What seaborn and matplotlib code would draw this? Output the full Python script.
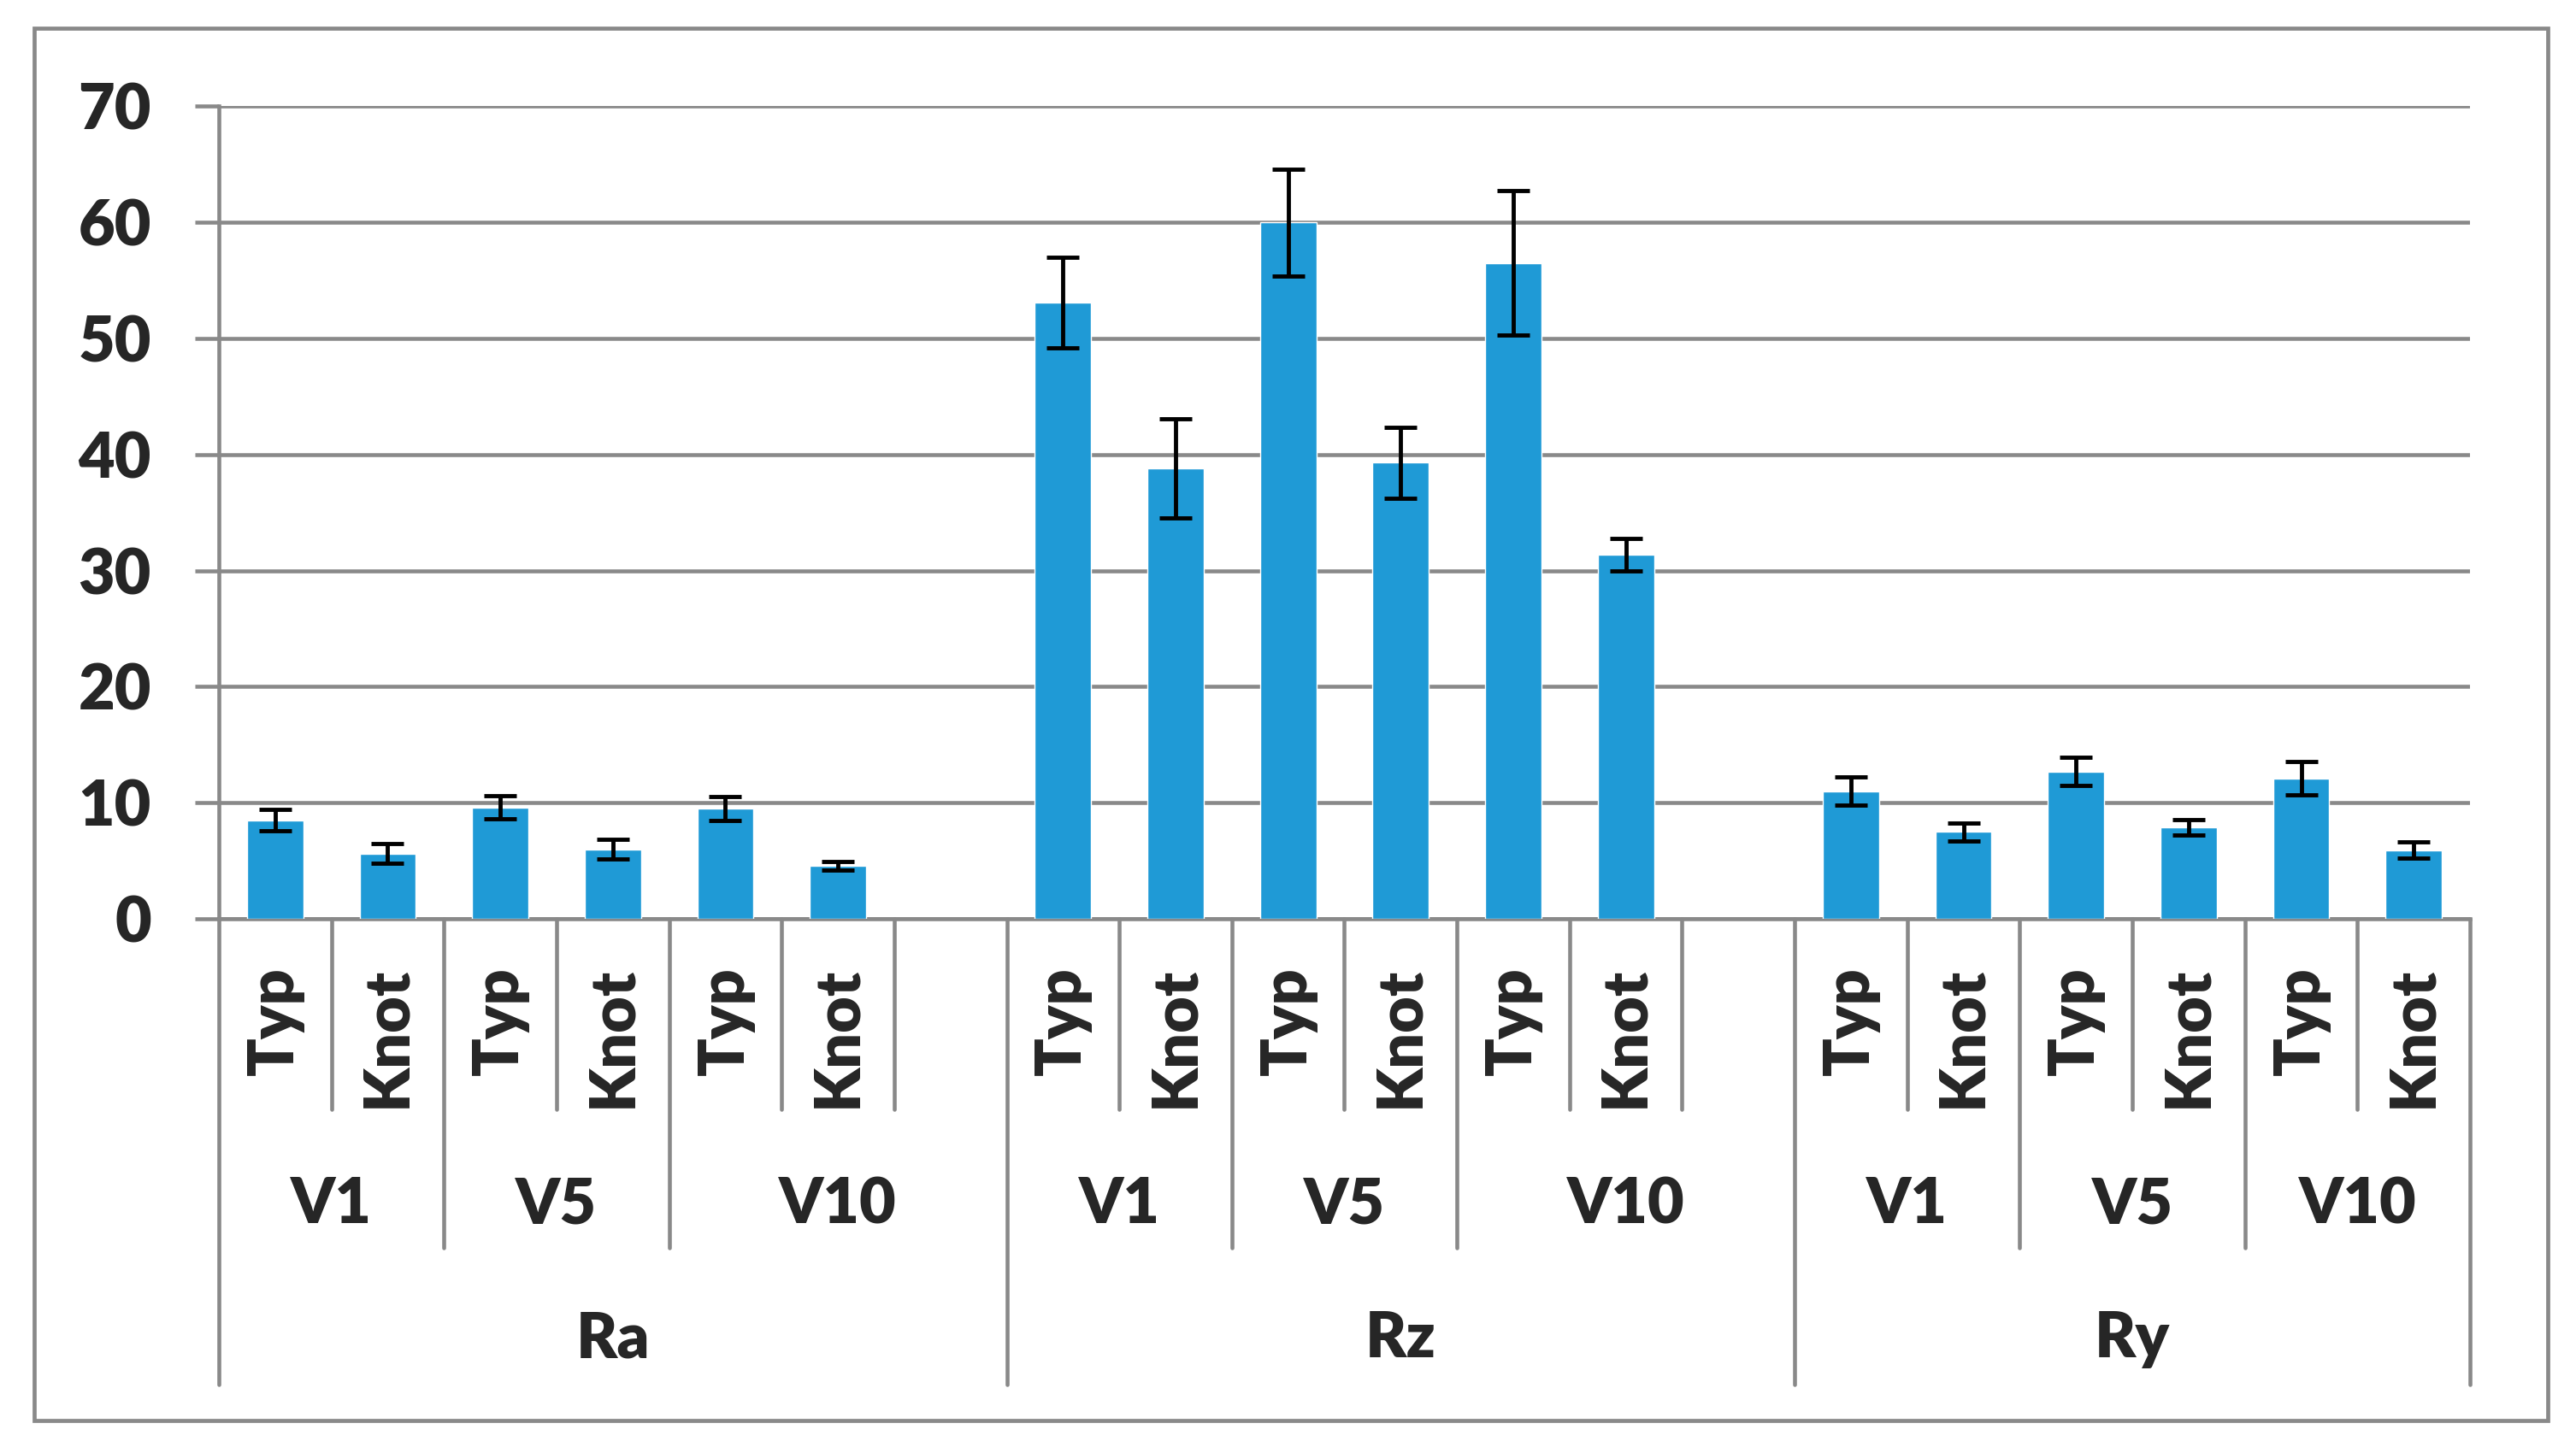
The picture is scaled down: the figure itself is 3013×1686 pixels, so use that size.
import matplotlib
matplotlib.use("Agg")
import matplotlib.pyplot as plt
import matplotlib.transforms as mtransforms
from matplotlib.patches import Rectangle
import numpy as np
import pandas as pd
import seaborn as sns

# ─── Data ────────────────────────────────────────────────────────────────
params = ["Ra", "Rz", "Ry"]
speeds = ["V1", "V5", "V10"]
kinds = ["Typ", "Knot"]

ra_mean = [8.5, 5.6, 9.6, 6.0, 9.5, 4.6]
ra_err = [0.95, 0.85, 1.0, 0.85, 1.0, 0.37]
rz_mean = [53.1, 38.8, 60.0, 39.3, 56.5, 31.4]
rz_err = [3.9, 4.25, 4.6, 3.05, 6.2, 1.4]
ry_mean = [11.0, 7.5, 12.7, 7.9, 12.1, 5.9]
ry_err = [1.23, 0.77, 1.2, 0.65, 1.45, 0.7]

yticks = [0, 10, 20, 30, 40, 50, 60, 70]

# ─── Style ───────────────────────────────────────────────────────────────
BAR = "#1F9AD6"
GRAY = "#898989"
sns.set_theme(style="white")
plt.rcParams["font.family"] = ["Lato", "DejaVu Sans"]
FS = 53
FW = "heavy"

# build the slot table: every group gets a blank slot after it except the last
means = {"Ra": ra_mean, "Rz": rz_mean, "Ry": ry_mean}
errs = {"Ra": ra_err, "Rz": rz_err, "Ry": ry_err}
rows, order = [], []
for p in params:
    i = 0
    for s in speeds:
        for k in kinds:
            slot = f"{p}|{s}|{k}"
            order.append(slot)
            rows.append({"slot": slot, "value": means[p][i], "err": errs[p][i]})
            i += 1
    if p != params[-1]:
        order.append(f"{p}|gap")
df = pd.DataFrame(rows)

fig = plt.figure(figsize=(30.13, 16.86), dpi=100)
ax = fig.add_axes([256 / 3013, 1 - 1075 / 1686, (2889 - 256) / 3013, (1075 - 124.3) / 1686])

sns.barplot(data=df, x="slot", y="value", order=order, color=BAR, saturation=1,
            width=0.5, errorbar=None, ax=ax, zorder=3)

xpos = [order.index(s) for s in df["slot"]]
ax.errorbar(xpos, df["value"], yerr=df["err"], fmt="none", ecolor="black",
            elinewidth=3.5, capsize=13.7, capthick=3.5, zorder=4)

ax.set_xlim(-0.5, len(order) - 0.5)
ax.set_ylim(0, 70)
ax.set_yticks(yticks)
ax.set_yticklabels([str(t) for t in yticks], fontsize=FS, fontweight=FW)
ax.set_xticks([])
ax.set_xlabel("")
ax.set_ylabel("")
ax.yaxis.grid(True, color=GRAY, linewidth=3.3)
ax.set_axisbelow(True)
ax.tick_params(axis="y", length=20, width=3.3, color=GRAY, direction="out", pad=37, left=True)
for side in ["top", "right"]:
    ax.spines[side].set_visible(False)
for side in ["left", "bottom"]:
    ax.spines[side].set_color(GRAY)
    ax.spines[side].set_linewidth(3.3)

# ─── Multi-level category axis ──────────────────────────────────────────
trans = mtransforms.blended_transform_factory(ax.transData, ax.transAxes)
L1, L2, L3 = -0.2346, -0.405, -0.5733


def vline(x, depth):
    ax.plot([x, x], [0, depth], color=GRAY, lw=3.3, transform=trans, clip_on=False)


for idx, slot in enumerate(order):
    parts = slot.split("|")
    if len(parts) == 3:
        ax.text(idx, -0.0589, parts[2], rotation=90, ha="center", va="top",
                fontsize=FS, fontweight=FW, transform=trans)

# boundaries
pos = 0
for gi, p in enumerate(params):
    start = pos
    vline(start - 0.5, L3)
    n_slots = 7 if gi < len(params) - 1 else 6
    for si, s in enumerate(speeds):
        s0 = start + 2 * si
        s1 = s0 + 2 if (si < 2 or n_slots == 6) else s0 + 3
        if si > 0:
            vline(s0 - 0.5, L2)
        vline(s0 + 0.5, L1)
        if s1 - s0 == 3:
            vline(s0 + 1.5, L1)
        ax.text((s0 - 0.5 + s1 - 0.5) / 2, -0.3745, s, ha="center", va="baseline",
                fontsize=FS, fontweight=FW, transform=trans)
    ax.text(start - 0.5 + n_slots / 2, -0.5400, p, ha="center", va="baseline",
            fontsize=FS, fontweight=FW, transform=trans)
    pos += n_slots
vline(pos - 0.5, L3)

# outer chart border
fig.patches.append(Rectangle((40 / 3013, 1 - 1662 / 1686), (2980 - 40) / 3013, (1662 - 32.7) / 1686,
                             transform=fig.transFigure, fill=False, edgecolor=GRAY, linewidth=3.4))

fig.savefig("out.png", dpi=100)
